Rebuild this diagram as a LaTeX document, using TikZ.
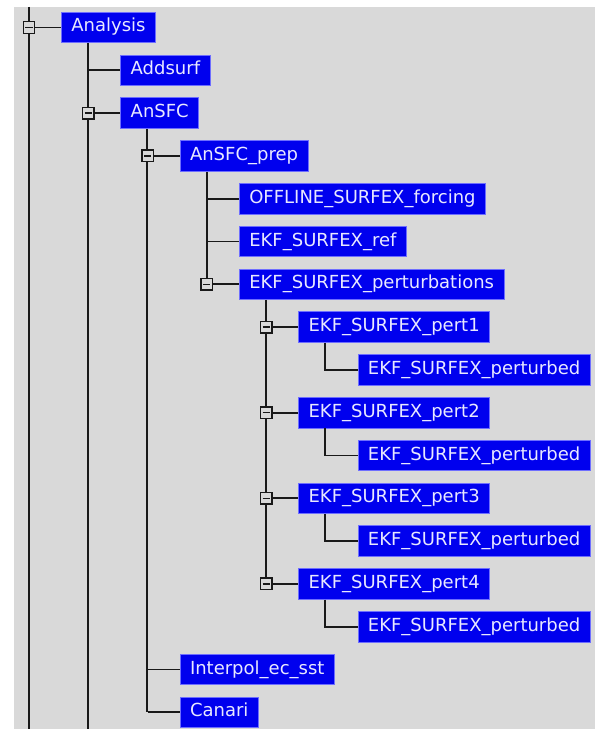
\documentclass[tikz,border=0pt]{standalone}
\usepackage{fontspec}
\setmainfont{DejaVu Sans}
\definecolor{bg}{RGB}{217,217,217}
\definecolor{boxblue}{RGB}{0,0,238}
\definecolor{boxedge}{RGB}{110,110,255}
\definecolor{txt}{RGB}{232,232,255}
\definecolor{ln}{RGB}{25,25,25}
\begin{document}
\begin{tikzpicture}[x=1bp,y=-1bp,
  task/.style={anchor=west, fill=boxblue, draw=boxedge, line width=0.8bp, text=txt,
    font=\fontsize{18bp}{20bp}\selectfont, inner xsep=10bp, inner ysep=0bp,
    text height=13.5bp, text depth=4.5bp, minimum height=30.5bp},
  link/.style={draw=ln, line width=1.9bp},
  expander/.style={draw=ln, fill=bg, line width=1.4bp, minimum size=11.5bp, inner sep=0pt,
    path picture={\draw[ln, line width=1.4bp] ([xshift=-3.5bp]path picture bounding box.center) -- ([xshift=3.5bp]path picture bounding box.center);}}]
\fill[white] (0,0) rectangle (595,729);
\fill[bg] (14,7) rectangle (595,729);
\useasboundingbox (0,0) rectangle (595,729);
\coordinate (top) at (0,7);
\coordinate (bot) at (0,729);
% nodes
\node[task] (an)     at (61,27.5)      {Analysis};
\node[task] (add)    at (120.3,70.3)   {Addsurf};
\node[task] (ansfc)  at (120.3,113.1)  {AnSFC};
\node[task] (prep)   at (179.6,155.9)  {AnSFC\_prep};
\node[task] (offl)   at (238.9,198.7)  {OFFLINE\_SURFEX\_forcing};
\node[task] (ref)    at (238.9,241.5)  {EKF\_SURFEX\_ref};
\node[task] (perts)  at (238.9,284.3)  {EKF\_SURFEX\_perturbations};
\node[task] (p1)     at (298.2,327.1)  {EKF\_SURFEX\_pert1};
\node[task] (p1a)    at (357.5,369.9)  {EKF\_SURFEX\_perturbed};
\node[task] (p2)     at (298.2,412.7)  {EKF\_SURFEX\_pert2};
\node[task] (p2a)    at (357.5,455.5)  {EKF\_SURFEX\_perturbed};
\node[task] (p3)     at (298.2,498.3)  {EKF\_SURFEX\_pert3};
\node[task] (p3a)    at (357.5,541.1)  {EKF\_SURFEX\_perturbed};
\node[task] (p4)     at (298.2,583.9)  {EKF\_SURFEX\_pert4};
\node[task] (p4a)    at (357.5,626.7)  {EKF\_SURFEX\_perturbed};
\node[task] (interp) at (179.6,669.5)  {Interpol\_ec\_sst};
\node[task] (canari) at (179.6,712.3)  {Canari};
% vertical lines
\draw[link] ([xshift=-32bp]an.west |- top) -- ([xshift=-32bp]an.west |- bot);
\draw[link] ([xshift=27bp]an.south west) -- ([xshift=27bp]an.south west |- bot);
\draw[link] ([xshift=27bp]ansfc.south west) -- ([xshift=27bp]ansfc.south west |- canari.west);
\draw[link] ([xshift=27bp]prep.south west) -- ([xshift=27bp]prep.south west |- perts.west);
\draw[link] ([xshift=27bp]perts.south west) -- ([xshift=27bp]perts.south west |- p4.west);
% leaf connectors
\draw[link] ([xshift=-32bp]add.west) -- (add.west);
\draw[link] ([xshift=-32bp]offl.west) -- (offl.west);
\draw[link] ([xshift=-32bp]ref.west) -- (ref.west);
\draw[link] ([xshift=-32bp]interp.west) -- (interp.west);
\draw[link] ([xshift=-32bp]canari.west) -- (canari.west);
\draw[link] ([xshift=27bp]p1.south west) |- (p1a.west);
\draw[link] ([xshift=27bp]p2.south west) |- (p2a.west);
\draw[link] ([xshift=27bp]p3.south west) |- (p3a.west);
\draw[link] ([xshift=27bp]p4.south west) |- (p4a.west);
% expanders
\foreach \n in {an,ansfc,prep,perts,p1,p2,p3,p4}{
  \node[expander] (e\n) at ([xshift=-32bp]\n.west) {};
  \draw[link] (e\n) -- (\n);
}
\end{tikzpicture}
\end{document}
